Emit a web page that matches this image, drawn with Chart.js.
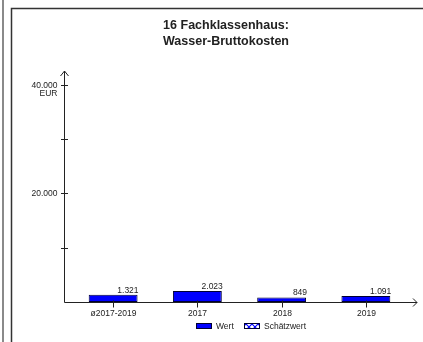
<!DOCTYPE html>
<html>
<head>
<meta charset="utf-8">
<script src="https://cdn.jsdelivr.net/npm/chart.js@4"></script>
<style>
  html, body { margin: 0; padding: 0; background: #fff; }
  canvas { display: block; }
</style>
</head>
<body>
<canvas id="wasserChart" width="423" height="342"></canvas>
<script>
const categories = ['ø2017-2019', '2017', '2018', '2019'];
const wertValues = [1321, 2023, 849, 1091];
const schaetzValues = [0, 0, 0, 0];
const yTicks = [0, 10000, 20000, 30000, 40000];
const yTickLabels = ['', '', '20.000', '', '40.000'];
const titleLines = ['16 Fachklassenhaus:', 'Wasser-Bruttokosten'];
const unitLabel = 'EUR';

const textColor = '#222';
const fontFamily = 'Arial, "Liberation Sans", sans-serif';

function fmt(v) {
    return String(v).replace(/\B(?=(\d{3})+(?!\d))/g, '.');
}

// hatch pattern for Schaetzwert
function makeHatch() {
    const c = document.createElement('canvas');
    c.width = 6;
    c.height = 6;
    const x = c.getContext('2d');
    x.fillStyle = '#fff';
    x.fillRect(0, 0, 6, 6);
    x.strokeStyle = '#0000ff';
    x.lineWidth = 1.2;
    x.beginPath();
    x.moveTo(0, 0); x.lineTo(6, 6);
    x.moveTo(6, 0); x.lineTo(0, 6);
    x.stroke();
    return x.createPattern(c, 'repeat');
}
const hatch = makeHatch();

const decorPlugin = {
    id: 'decor',
    beforeDraw(chart) {
        const ctx = chart.ctx;
        ctx.save();
        // outer frame
        ctx.strokeStyle = '#8a8a8a';
        ctx.lineWidth = 2;
        ctx.beginPath();
        ctx.moveTo(3, 0); ctx.lineTo(3, 342);
        ctx.stroke();
        ctx.strokeStyle = '#333';
        ctx.lineWidth = 1.5;
        ctx.beginPath();
        ctx.moveTo(11.5, 342); ctx.lineTo(11.5, 8.5); ctx.lineTo(423, 8.5);
        ctx.stroke();

        // title
        ctx.fillStyle = textColor;
        ctx.font = 'bold 12.5px ' + fontFamily;
        ctx.textAlign = 'center';
        ctx.textBaseline = 'alphabetic';
        titleLines.forEach(function (t, i) {
            ctx.fillText(t, 226, 29 + i * 16);
        });
        ctx.restore();
    },
    afterDatasetsDraw(chart) {
        const ctx = chart.ctx;
        const area = chart.chartArea;
        const xs = chart.scales.x;
        const ys = chart.scales.y;
        const axisX = area.left - 7 + 0.5;
        const axisY = Math.round(ys.getPixelForValue(0)) + 0.5;
        ctx.save();
        ctx.strokeStyle = '#222';
        ctx.lineWidth = 1;

        // y axis with arrow
        ctx.beginPath();
        ctx.moveTo(axisX, axisY);
        ctx.lineTo(axisX, area.top);
        ctx.moveTo(axisX - 4, area.top + 5);
        ctx.lineTo(axisX, area.top);
        ctx.lineTo(axisX + 4, area.top + 5);
        // x axis with arrow
        ctx.moveTo(axisX, axisY);
        ctx.lineTo(area.right + 9, axisY);
        ctx.moveTo(area.right + 5, axisY - 4);
        ctx.lineTo(area.right + 9, axisY);
        ctx.lineTo(area.right + 5, axisY + 4);
        ctx.stroke();

        // y ticks + labels
        ctx.font = '8.5px ' + fontFamily;
        ctx.fillStyle = textColor;
        ctx.textAlign = 'right';
        ctx.textBaseline = 'middle';
        yTicks.forEach(function (v, i) {
            if (v === 0) return;
            const py = Math.round(ys.getPixelForValue(v)) + 0.5;
            ctx.beginPath();
            ctx.moveTo(axisX - 3.5, py);
            ctx.lineTo(axisX + 3.5, py);
            ctx.stroke();
            if (yTickLabels[i]) {
                ctx.fillText(yTickLabels[i], axisX - 7, py);
            }
        });
        const topPy = ys.getPixelForValue(yTicks[yTicks.length - 1]);
        ctx.fillText(unitLabel, axisX - 7, topPy + 9);

        // x ticks + labels
        ctx.textAlign = 'center';
        categories.forEach(function (c, i) {
            const px = Math.round(xs.getPixelForValue(i)) + 0.5;
            ctx.beginPath();
            ctx.moveTo(px, axisY - 2);
            ctx.lineTo(px, axisY + 5);
            ctx.stroke();
            ctx.fillText(c, px, axisY + 11);
        });

        // value labels
        ctx.textAlign = 'right';
        ctx.textBaseline = 'alphabetic';
        const meta = chart.getDatasetMeta(0);
        meta.data.forEach(function (bar, i) {
            const right = bar.x + bar.width / 2;
            ctx.fillText(fmt(wertValues[i]), right + 1, bar.y - 2);
        });

        // legend
        ctx.textBaseline = 'middle';
        ctx.textAlign = 'left';
        const ly = 326;
        const items = [
            { x: 196, ds: chart.data.datasets[0] },
            { x: 244, ds: chart.data.datasets[1] }
        ];
        items.forEach(function (it) {
            ctx.fillStyle = it.ds.backgroundColor;
            ctx.fillRect(it.x, ly - 3, 16, 6);
            ctx.strokeStyle = it.ds.borderColor;
            ctx.strokeRect(it.x + 0.5, ly - 3 + 0.5, 15, 5);
            ctx.fillStyle = textColor;
            ctx.fillText(it.ds.label, it.x + 20, ly + 0.5);
        });
        ctx.restore();
    }
};

new Chart(document.getElementById('wasserChart').getContext('2d'), {
    type: 'bar',
    data: {
        labels: categories,
        datasets: [{
            label: 'Wert',
            data: wertValues,
            backgroundColor: '#0000ff',
            borderColor: '#000033',
            borderWidth: 1,
            borderSkipped: false,
            categoryPercentage: 1,
            barPercentage: 0.58
        }, {
            label: 'Schätzwert',
            data: schaetzValues,
            backgroundColor: hatch,
            borderColor: '#000033',
            borderWidth: 1,
            categoryPercentage: 1,
            barPercentage: 0.58
        }]
    },
    options: {
        responsive: false,
        animation: false,
        devicePixelRatio: 1,
        layout: {
            padding: { left: 71, right: 15, top: 71, bottom: 40 }
        },
        scales: {
            x: { display: false, stacked: true, offset: true },
            y: { display: false, stacked: true, min: 0, max: 42500 }
        },
        plugins: {
            legend: { display: false },
            title: { display: false },
            tooltip: { enabled: false }
        }
    },
    plugins: [decorPlugin]
});
</script>
</body>
</html>
